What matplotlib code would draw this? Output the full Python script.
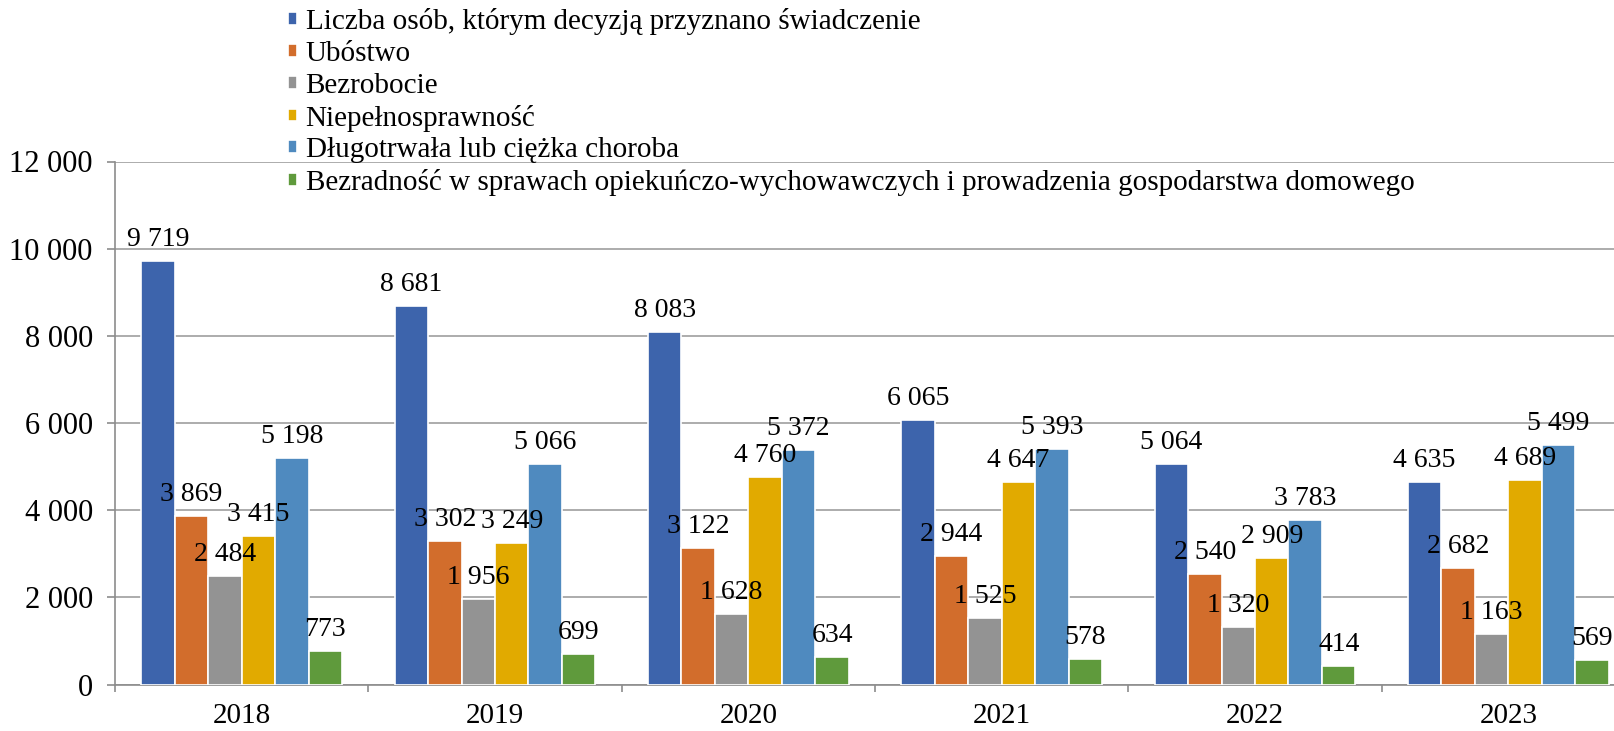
import matplotlib
matplotlib.use("Agg")
import matplotlib.pyplot as plt
import numpy as np

years = ["2018", "2019", "2020", "2021", "2022", "2023"]
series_names = [
    "Liczba osób, którym decyzją przyznano świadczenie",
    "Ubóstwo",
    "Bezrobocie",
    "Niepełnosprawność",
    "Długotrwała lub ciężka choroba",
    "Bezradność w sprawach opiekuńczo-wychowawczych i prowadzenia gospodarstwa domowego",
]
liczba = [9719, 8681, 8083, 6065, 5064, 4635]
ubostwo = [3869, 3302, 3122, 2944, 2540, 2682]
bezrobocie = [2484, 1956, 1628, 1525, 1320, 1163]
niepelnosprawnosc = [3415, 3249, 4760, 4647, 2909, 4689]
choroba = [5198, 5066, 5372, 5393, 3783, 5499]
bezradnosc = [773, 699, 634, 578, 414, 569]
yticks = [0, 2000, 4000, 6000, 8000, 10000, 12000]

series = [liczba, ubostwo, bezrobocie, niepelnosprawnosc, choroba, bezradnosc]
colors = ["#3D64AC", "#D26D2C", "#939393", "#E1AA00", "#4F8ABF", "#5F9A3C"]

plt.rcParams['font.family'] = ['Liberation Serif', 'DejaVu Serif']
FS_TICK = 22
FS_XTICK = 21
FS_LAB = 20
FS_LEG = 21

def fmt(v):
    return f"{v:,}".replace(",", " ")

W, H = 1614, 731
fig = plt.figure(figsize=(W/100, H/100), dpi=100)
ax = fig.add_axes([115/W, 46.5/H, 1520/W, 523/H])

x = np.arange(len(years))
n = len(series)
slot = 33.5/253.4
for i, (vals, c, name) in enumerate(zip(series, colors, series_names)):
    pos = x + (i - (n-1)/2) * slot
    ax.bar(pos, vals, width=slot, color=c, edgecolor="white", linewidth=1.2,
           label=name, zorder=3)
    for p, v in zip(pos, vals):
        ax.annotate(fmt(v), (p, v), xytext=(0, 15), textcoords="offset pixels",
                    ha="center", va="baseline", fontsize=FS_LAB, zorder=5,
                    annotation_clip=False)

ax.set_xlim(-0.5, len(years) - 0.5)
ax.set_ylim(0, 12000)
ax.set_yticks(yticks)
ax.set_yticklabels([fmt(t) for t in yticks], fontsize=FS_TICK)
ax.set_xticks(x)
ax.set_xticklabels(years, fontsize=FS_XTICK)
ax.set_xticks(np.arange(-0.5, len(years)), minor=True)
ax.tick_params(axis="x", which="major", length=0, pad=13.5)
ax.tick_params(axis="x", which="minor", length=5, width=1.2, color="#8c8c8c", direction="out")
ax.tick_params(axis="y", which="major", length=6, width=1.2, color="#8c8c8c", pad=10)
ax.yaxis.grid(True, color="#a6a6a6", linewidth=1.3, zorder=0)
for s in ["top", "right"]:
    ax.spines[s].set_visible(False)
for s in ["left", "bottom"]:
    ax.spines[s].set_color("#8c8c8c")
    ax.spines[s].set_linewidth(1.2)

leg = fig.legend(loc="upper left", bbox_to_anchor=(288/W, 1 - 8/H),
                 bbox_transform=fig.transFigure, frameon=False, fontsize=FS_LEG,
                 handlelength=0.3, handleheight=0.3, handletextpad=0.3,
                 labelspacing=0.2, borderpad=0, borderaxespad=0)

fig.savefig("out.png", dpi=100)
